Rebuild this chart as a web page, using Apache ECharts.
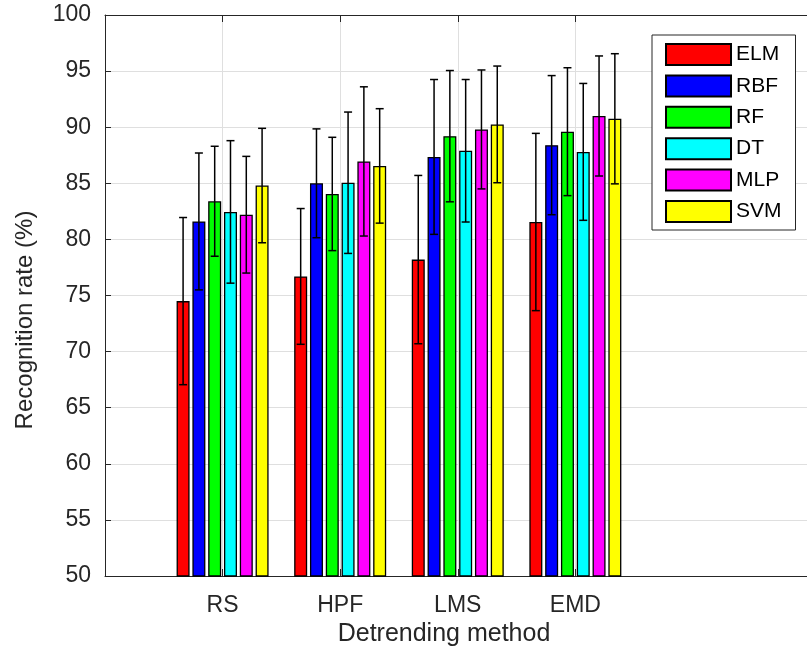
<!DOCTYPE html>
<html>
<head>
<meta charset="utf-8">
<script src="https://cdn.jsdelivr.net/npm/echarts@6/dist/echarts.min.js"></script>
<style>html,body{margin:0;padding:0;background:#fff;}#chart{width:807px;height:652px;}</style>
</head>
<body>
<div id="chart"></div>
<script>
// ---- data ----
var categories = ['RS', 'HPF', 'LMS', 'EMD'];
var methods = ['ELM', 'RBF', 'RF', 'DT', 'MLP', 'SVM'];
var meanELM = [74.5, 76.7, 78.2, 81.55];
var meanRBF = [81.6, 85.0, 87.35, 88.4];
var meanRF  = [83.4, 84.05, 89.2, 89.6];
var meanDT  = [82.45, 85.05, 87.9, 87.8];
var meanMLP = [82.2, 86.95, 89.8, 91.0];
var meanSVM = [84.8, 86.55, 90.25, 90.75];
var errELM = [7.45, 6.05, 7.5, 7.9];
var errRBF = [6.1, 4.85, 6.9, 6.2];
var errRF  = [4.9, 5.05, 5.85, 5.7];
var errDT  = [6.35, 6.3, 6.35, 6.1];
var errMLP = [5.2, 6.65, 5.3, 5.35];
var errSVM = [5.1, 5.1, 5.2, 5.8];
var yTicks = [50, 55, 60, 65, 70, 75, 80, 85, 90, 95, 100];

var means = [meanELM, meanRBF, meanRF, meanDT, meanMLP, meanSVM];
var errs = [errELM, errRBF, errRF, errDT, errMLP, errSVM];
var colors = ['#ff0000', '#0000ff', '#00ff00', '#00ffff', '#ff00ff', '#ffff00'];

var FONT = '"Liberation Sans", Arial, Helvetica, sans-serif';
var AX = '#262626';
var GRID = '#dfdfdf';
var BAR_W = 13, PITCH = 15.8;
var catPos = categories.map(function (c, i) { return i + 1; });

var series = methods.map(function (name, m) {
  return {
    name: name,
    type: 'bar',
    barWidth: BAR_W,
    barGap: ((PITCH - BAR_W) / BAR_W * 100) + '%',
    clip: true,
    itemStyle: { color: colors[m], borderColor: '#000', borderWidth: 1.3 },
    data: catPos.map(function (x, i) { return [x, means[m][i]]; }),
    z: 2
  };
});

var errData = [];
methods.forEach(function (name, m) {
  catPos.forEach(function (x, i) { errData.push([x, means[m][i], m, errs[m][i]]); });
});
series.push({
  type: 'custom',
  name: 'err',
  encode: { x: 0, y: 1 },
  z: 5,
  silent: true,
  data: errData,
  renderItem: function (params, api) {
    var x = api.value(0), mean = api.value(1), m = api.value(2), e = api.value(3);
    var c = api.coord([x, mean]);
    var px = c[0] + (m - 2.5) * PITCH;
    var top = api.coord([x, mean + e])[1];
    var bot = api.coord([x, mean - e])[1];
    var st = { stroke: '#000', lineWidth: 1.5 };
    var hw = 4;
    return {
      type: 'group',
      children: [
        { type: 'line', shape: { x1: px, y1: top, x2: px, y2: bot }, style: st },
        { type: 'line', shape: { x1: px - hw, y1: top, x2: px + hw, y2: top }, style: st },
        { type: 'line', shape: { x1: px - hw, y1: bot, x2: px + hw, y2: bot }, style: st }
      ]
    };
  }
});

var XMAX = 5.97;
var chart = echarts.init(document.getElementById('chart'), null, { renderer: 'canvas' });
chart.setOption({
  animation: false,
  backgroundColor: '#fff',
  textStyle: { fontFamily: FONT },
  grid: { left: 105, top: 15, right: -5, bottom: 76, containLabel: false },
  legend: {
    data: methods,
    orient: 'vertical',
    left: 652, top: 35,
    itemWidth: 65, itemHeight: 21, itemGap: 8.4,
    padding: [8, 14, 7, 13],
    borderColor: AX, borderWidth: 1, backgroundColor: '#fff',
    icon: 'rect',
    textStyle: { fontSize: 21, color: '#000', fontFamily: FONT },
    selectedMode: false
  },
  xAxis: [{
    type: 'value', min: 0, max: XMAX, interval: 1,
    axisLine: { show: true, lineStyle: { color: AX, width: 1 } },
    axisTick: { show: true, inside: true, length: 7, customValues: catPos, lineStyle: { color: AX } },
    axisLabel: { show: true, customValues: catPos, fontSize: 23, color: AX, margin: 18, fontFamily: FONT,
      formatter: function (v) { var i = Math.round(v) - 1; return categories[i] || ''; } },
    splitLine: { show: true, lineStyle: { color: GRID, width: 1 } }
  }, {
    type: 'value', min: 0, max: XMAX, interval: 1, position: 'top',
    axisLine: { show: true, lineStyle: { color: AX, width: 1 } },
    axisTick: { show: true, inside: true, length: 7, customValues: catPos, lineStyle: { color: AX } },
    axisLabel: { show: false },
    splitLine: { show: false }
  }],
  yAxis: {
    type: 'value', min: yTicks[0], max: yTicks[yTicks.length - 1], interval: 5,
    axisLine: { show: true, lineStyle: { color: AX, width: 1 } },
    axisTick: { show: true, inside: true, length: 6, lineStyle: { color: AX } },
    axisLabel: { fontSize: 23, color: AX, margin: 14, fontFamily: FONT },
    splitLine: { show: true, lineStyle: { color: GRID, width: 1 } }
  },
  graphic: [
    { type: 'text', x: 444, y: 634, style: { text: 'Detrending method', fontSize: 25, fill: AX, fontFamily: FONT, align: 'center', verticalAlign: 'middle' } },
    { type: 'text', x: 25, y: 320, rotation: Math.PI / 2, style: { text: 'Recognition rate (%)', fontSize: 24, fill: AX, fontFamily: FONT, align: 'center', verticalAlign: 'middle' } }
  ],
  series: series
});
</script>
</body>
</html>
